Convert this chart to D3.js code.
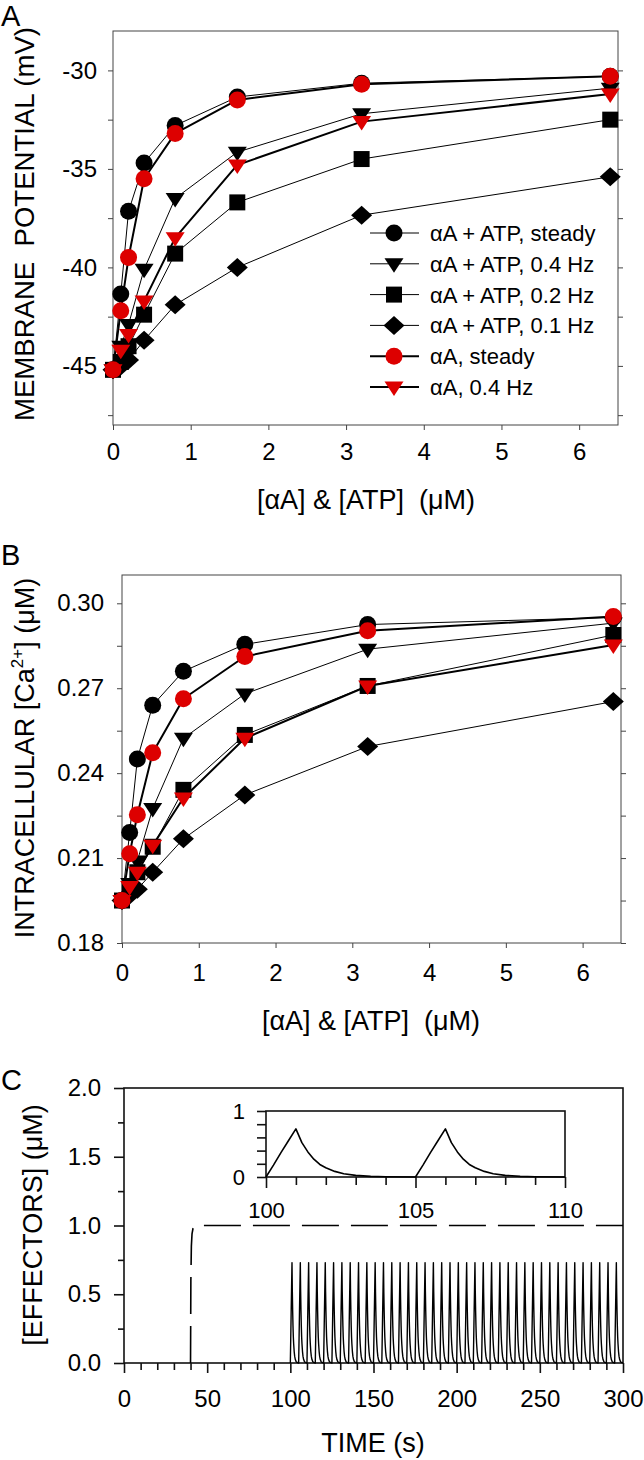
<!DOCTYPE html>
<html>
<head>
<meta charset="utf-8">
<script src="https://cdn.jsdelivr.net/npm/d3@7"></script>
<style>
  html, body { margin: 0; padding: 0; background: #fff; }
  svg { display: block; }
  text { font-family: "Liberation Sans", Arial, sans-serif; fill: #000; white-space: pre; }
</style>
</head>
<body>
<svg id="fig" width="644" height="1460"></svg>
<script>
// ---------------- DATA ----------------
const concentrations = [0, 0.1, 0.2, 0.4, 0.8, 1.6, 3.2, 6.4];
const seriesNames = ["αA + ATP, steady", "αA + ATP, 0.4 Hz", "αA + ATP, 0.2 Hz", "αA + ATP, 0.1 Hz", "αA, steady", "αA, 0.4 Hz"];

// Panel A: membrane potential (mV)
const vmATPsteady = [-45.2, -41.35, -37.15, -34.7, -32.8, -31.35, -30.65, -30.3];
const vmATP04     = [-45.2, -44.0, -42.9, -40.1, -36.5, -34.15, -32.2, -30.9];
const vmATP02     = [-45.2, -44.8, -44.0, -42.4, -39.3, -36.7, -34.5, -32.5];
const vmATP01     = [-45.2, -45.0, -44.7, -43.7, -41.9, -40.0, -37.35, -35.4];
const vmAsteady   = [-45.2, -42.2, -39.5, -35.5, -33.2, -31.5, -30.7, -30.3];
const vmA04       = [-45.2, -44.2, -43.4, -41.7, -38.5, -34.8, -32.6, -31.2];

// Panel B: intracellular Ca2+ (uM)
const caATPsteady = [0.195, 0.219, 0.245, 0.264, 0.276, 0.2855, 0.2925, 0.295];
const caATP04     = [0.195, 0.201, 0.209, 0.2275, 0.2523, 0.268, 0.2838, 0.293];
const caATP02     = [0.195, 0.199, 0.205, 0.214, 0.2341, 0.2535, 0.2708, 0.2888];
const caATP01     = [0.195, 0.197, 0.199, 0.205, 0.2168, 0.2323, 0.2494, 0.2653];
const caAsteady   = [0.195, 0.2115, 0.2253, 0.2472, 0.2663, 0.2812, 0.2903, 0.2953];
const caA04       = [0.195, 0.200, 0.205, 0.2145, 0.2312, 0.2523, 0.2708, 0.2853];

// Tick labels
const vmTicks = [-45, -40, -35, -30];
const caTicks = [0.18, 0.21, 0.24, 0.27, 0.30];
const concTicks = [0, 1, 2, 3, 4, 5, 6];
const timeTicks = [0, 50, 100, 150, 200, 250, 300];
const effTicks = [0.0, 0.5, 1.0, 1.5, 2.0];
const insetXTicks = [100, 105, 110];
const insetYTicks = [0, 1];

// Panel C: effectors
const stepTime  = [40, 40.2, 40.5, 40.9, 41.5, 42.3, 43.5, 300];
const stepValue = [0, 0.6, 0.85, 0.94, 0.98, 0.995, 1.0, 1.0];
const pulseTime  = [0, 0.25, 0.5, 0.75, 1.0, 1.2, 1.4, 1.6, 1.8, 2.0, 2.3, 2.6, 3.0, 3.5, 4.0, 5.0];
const pulseValue = [0, 0.18, 0.37, 0.55, 0.73, 0.52, 0.38, 0.27, 0.19, 0.14, 0.085, 0.05, 0.025, 0.01, 0.004, 0];
const pulseOnsets = [100, 105, 110, 115, 120, 125, 130, 135, 140, 145,
                     150, 155, 160, 165, 170, 175, 180, 185, 190, 195,
                     200, 205, 210, 215, 220, 225, 230, 235, 240, 245,
                     250, 255, 260, 265, 270, 275, 280, 285, 290, 295];
const insetOnsets = [100, 105];

// ---------------- DRAWING ----------------
const svg = d3.select("#fig");
const RED = "#dd0000";
const TICKFONT = 24;
const hyphenInt = d => String(d);

const seriesStyle = [
  {shape: "circle", fill: "#000", lw: 1},
  {shape: "tri", fill: "#000", lw: 1},
  {shape: "square", fill: "#000", lw: 1},
  {shape: "diamond", fill: "#000", lw: 1},
  {shape: "circle", fill: RED, lw: 2},
  {shape: "tri", fill: RED, lw: 2}
];

function markerPath(shape) {
  if (shape === "circle") { const r = 8.5; return `M${-r},0A${r},${r} 0 1,0 ${r},0A${r},${r} 0 1,0 ${-r},0Z`; }
  if (shape === "tri") return "M-9.5,-5.5L9.5,-5.5L0,9Z";
  if (shape === "square") return "M-8,-8L8,-8L8,8L-8,8Z";
  if (shape === "diamond") return "M0,-9.5L10.5,0L0,9.5L-10.5,0Z";
}

function styleAxis(g, fs, color, width) {
  g.selectAll("text").style("font-size", fs + "px").style("font-family", '"Liberation Sans", Arial, sans-serif');
  g.selectAll("line").attr("stroke", color).attr("stroke-width", width);
  g.select(".domain").remove();
}

function scatterPanel(opts) {
  const {x, y, series, yTicks, yMinor, yFmt, xPadB, yPad} = opts;
  const [x0, x1] = x.range();
  const [yb, yt] = y.range();
  const g = svg.append("g");
  g.append("rect").attr("x", x0).attr("y", yt).attr("width", x1 - x0).attr("height", yb - yt)
    .attr("fill", "none").attr("stroke", "#444").attr("stroke-width", 1);
  const la = g.append("g").attr("transform", `translate(${x0},0)`)
    .call(d3.axisLeft(y).tickValues(yTicks).tickSize(5).tickPadding(yPad).tickFormat(yFmt));
  styleAxis(la, TICKFONT, "#444", 1);
  const lm = g.append("g").attr("transform", `translate(${x0},0)`)
    .call(d3.axisLeft(y).tickValues(yMinor).tickSize(5).tickFormat(""));
  styleAxis(lm, TICKFONT, "#444", 1);
  const ra = g.append("g").attr("transform", `translate(${x1},0)`)
    .call(d3.axisRight(y).tickValues(yTicks.concat(yMinor)).tickSize(5).tickFormat(""));
  styleAxis(ra, TICKFONT, "#444", 1);
  const ba = g.append("g").attr("transform", `translate(0,${yb})`)
    .call(d3.axisBottom(x).tickValues(concTicks).tickSize(5).tickPadding(xPadB).tickFormat(hyphenInt));
  styleAxis(ba, TICKFONT, "#444", 1);

  const line = d3.line().x((d, i) => x(concentrations[i])).y(d => y(d));
  series.forEach((vals, si) => {
    g.append("path").attr("d", line(vals)).attr("fill", "none")
      .attr("stroke", "#000").attr("stroke-width", seriesStyle[si].lw).attr("stroke-linejoin", "round");
  });
  series.forEach((vals, si) => {
    const st = seriesStyle[si];
    g.selectAll(null).data(vals).enter().append("path")
      .attr("d", markerPath(st.shape))
      .attr("transform", (d, i) => `translate(${x(concentrations[i])},${y(d)})`)
      .attr("fill", st.fill).attr("stroke", "none");
  });
  return g;
}

// ---------- Panel A ----------
const xA = d3.scaleLinear().domain([0, 6.5]).range([113, 618]);
const yA = d3.scaleLinear().domain([-48, -28]).range([425, 31]);
scatterPanel({
  x: xA, y: yA,
  series: [vmATPsteady, vmATP04, vmATP02, vmATP01, vmAsteady, vmA04],
  yTicks: vmTicks, yMinor: [-47.5, -42.5, -37.5, -32.5], yFmt: hyphenInt,
  xPadB: 13, yPad: 11
});
svg.append("text").attr("x", 1).attr("y", 26).style("font-size", "29px").text("A");
svg.append("text").attr("transform", "translate(34,224) rotate(-90)").attr("text-anchor", "middle")
  .style("font-size", "27px").attr("textLength", 394).attr("lengthAdjust", "spacingAndGlyphs")
  .text("MEMBRANE  POTENTIAL (mV)");
svg.append("text").attr("x", 366).attr("y", 509).attr("text-anchor", "middle")
  .style("font-size", "27px").text("[αA] & [ATP]  (μM)");

// legend
const legend = svg.append("g");
seriesNames.forEach((name, i) => {
  const yy = 233 + i * 30.8;
  const st = seriesStyle[i];
  legend.append("line").attr("x1", 370).attr("x2", 419).attr("y1", yy).attr("y2", yy)
    .attr("stroke", "#000").attr("stroke-width", st.lw);
  legend.append("path").attr("d", markerPath(st.shape)).attr("transform", `translate(394,${yy})`)
    .attr("fill", st.fill);
  legend.append("text").attr("x", 430).attr("y", yy + 8).style("font-size", "22px").text(name);
});

// ---------- Panel B ----------
const xB = d3.scaleLinear().domain([0, 6.5]).range([122, 621]);
const yB = d3.scaleLinear().domain([0.18, 0.31]).range([943, 575]);
scatterPanel({
  x: xB, y: yB,
  series: [caATPsteady, caATP04, caATP02, caATP01, caAsteady, caA04],
  yTicks: caTicks, yMinor: [0.195, 0.225, 0.255, 0.285], yFmt: d3.format(".2f"),
  xPadB: 16, yPad: 13
});
svg.append("text").attr("x", 1).attr("y", 565).style("font-size", "29px").text("B");
const tB = svg.append("text").attr("transform", "translate(34,758) rotate(-90)").attr("text-anchor", "middle")
  .style("font-size", "27px");
tB.append("tspan").text("INTRACELLULAR [Ca");
tB.append("tspan").attr("dy", "-11").style("font-size", "17px").text("2+");
tB.append("tspan").attr("dy", "11").text("] (μM)");
svg.append("text").attr("x", 371).attr("y", 1030).attr("text-anchor", "middle")
  .style("font-size", "27px").text("[αA] & [ATP]  (μM)");

// ---------- Panel C ----------
const xC = d3.scaleLinear().domain([0, 300]).range([124, 623]);
const yC = d3.scaleLinear().domain([0, 2]).range([1363, 1088]);
const gC = svg.append("g");
gC.append("rect").attr("x", 124).attr("y", 1088).attr("width", 499).attr("height", 275)
  .attr("fill", "none").attr("stroke", "#111").attr("stroke-width", 1.6);
const cl = gC.append("g").attr("transform", "translate(124,0)")
  .call(d3.axisLeft(yC).tickValues(effTicks).tickSize(10).tickPadding(13).tickFormat(d3.format(".1f")));
styleAxis(cl, TICKFONT, "#111", 1.6);
const clm = gC.append("g").attr("transform", "translate(124,0)")
  .call(d3.axisLeft(yC).tickValues([0.25, 0.75, 1.25, 1.75]).tickSize(6).tickFormat(""));
styleAxis(clm, TICKFONT, "#111", 1.6);
const cb = gC.append("g").attr("transform", "translate(0,1363)")
  .call(d3.axisBottom(xC).tickValues(timeTicks).tickSize(10).tickPadding(17).tickFormat(hyphenInt));
styleAxis(cb, TICKFONT, "#111", 1.6);
const minorTime = [10, 20, 30, 40, 60, 70, 80, 90, 110, 120, 130, 140, 160, 170, 180, 190,
                   210, 220, 230, 240, 260, 270, 280, 290];
const cbm = gC.append("g").attr("transform", "translate(0,1363)")
  .call(d3.axisBottom(xC).tickValues(minorTime).tickSize(7).tickFormat(""));
styleAxis(cbm, TICKFONT, "#111", 1.6);

// step (dashed)
const stepLine = d3.line().x((d, i) => xC(stepTime[i])).y(d => yC(d));
gC.append("path").attr("d", stepLine(stepValue)).attr("fill", "none").attr("stroke", "#000")
  .attr("stroke-width", 1.6).attr("stroke-dasharray", "37,12");

// pulse train
function trainPoints(onsets) {
  const pts = [];
  onsets.forEach(o => pulseTime.forEach((t, k) => pts.push([o + t, pulseValue[k]])));
  return pts;
}
gC.append("path").attr("d", d3.line().x(d => xC(d[0])).y(d => yC(d[1]))(trainPoints(pulseOnsets)))
  .attr("fill", "none").attr("stroke", "#000").attr("stroke-width", 1.4).attr("stroke-linejoin", "round");

svg.append("text").attr("x", 1).attr("y", 1090).style("font-size", "29px").text("C");
svg.append("text").attr("transform", "translate(42,1225) rotate(-90)").attr("text-anchor", "middle")
  .style("font-size", "27px").text("[EFFECTORS] (μM)");
svg.append("text").attr("x", 373).attr("y", 1452).attr("text-anchor", "middle")
  .style("font-size", "27px").text("TIME (s)");

// inset
const xI = d3.scaleLinear().domain([100, 110]).range([266, 565]);
const yI = d3.scaleLinear().domain([0, 1]).range([1177, 1111]);
const gI = svg.append("g");
gI.append("rect").attr("x", 266).attr("y", 1111).attr("width", 299).attr("height", 66)
  .attr("fill", "#fff").attr("stroke", "#111").attr("stroke-width", 1.6);
const il = gI.append("g").attr("transform", "translate(266,0)")
  .call(d3.axisLeft(yI).tickValues(insetYTicks).tickSize(9).tickPadding(12).tickFormat(hyphenInt));
styleAxis(il, 22, "#111", 1.6);
const ilm = gI.append("g").attr("transform", "translate(266,0)")
  .call(d3.axisLeft(yI).tickValues([0.2, 0.4, 0.6, 0.8]).tickSize(9).tickFormat(""));
styleAxis(ilm, 22, "#111", 1.6);
const ib = gI.append("g").attr("transform", "translate(0,1177)")
  .call(d3.axisBottom(xI).tickValues(insetXTicks).tickSize(11).tickPadding(14).tickFormat(hyphenInt));
styleAxis(ib, 22, "#111", 1.6);
const ibm = gI.append("g").attr("transform", "translate(0,1177)")
  .call(d3.axisBottom(xI).tickValues([101, 102, 103, 104, 106, 107, 108, 109]).tickSize(8).tickFormat(""));
styleAxis(ibm, 22, "#111", 1.6);
gI.append("path").attr("d", d3.line().x(d => xI(d[0])).y(d => yI(d[1]))(trainPoints(insetOnsets)))
  .attr("fill", "none").attr("stroke", "#000").attr("stroke-width", 1.6).attr("stroke-linejoin", "round");
</script>
</body>
</html>
